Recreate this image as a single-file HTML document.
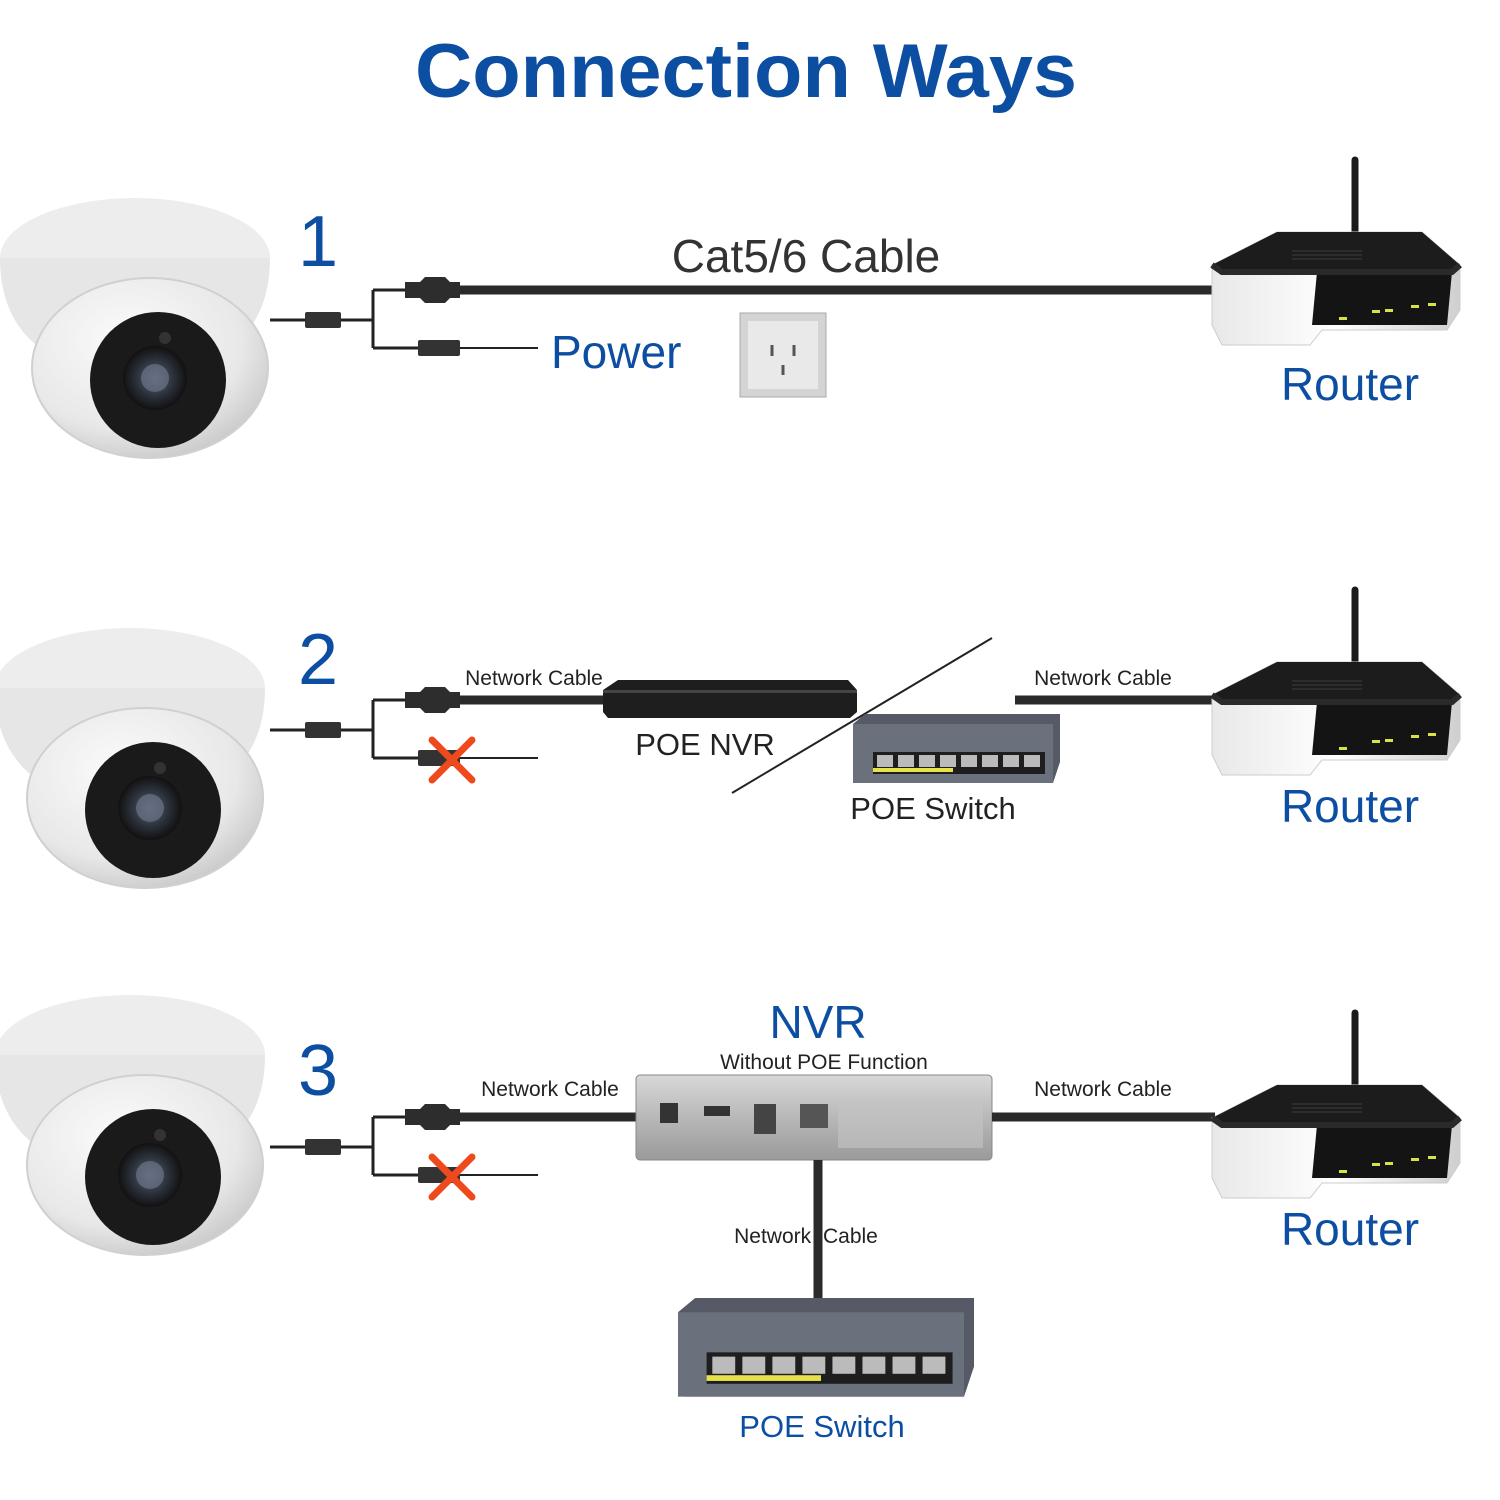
<!DOCTYPE html>
<html><head><meta charset="utf-8"><style>
html,body{margin:0;padding:0;background:#fff}
svg{display:block}
text{font-family:"Liberation Sans",Arial,sans-serif}
</style></head><body>
<svg width="1500" height="1500" viewBox="0 0 1500 1500" xmlns="http://www.w3.org/2000/svg">
<defs>
<radialGradient id="dome" cx="0.4" cy="0.35" r="0.7"><stop offset="0" stop-color="#fbfbfb"/><stop offset="0.7" stop-color="#e8e8e8"/><stop offset="1" stop-color="#c8c8c8"/></radialGradient>
<radialGradient id="lens" cx="0.5" cy="0.5" r="0.5"><stop offset="0" stop-color="#5a6478"/><stop offset="0.6" stop-color="#2a2f38"/><stop offset="1" stop-color="#111"/></radialGradient>
<linearGradient id="silver" x1="0" y1="0" x2="0" y2="1"><stop offset="0" stop-color="#d8d8d8"/><stop offset="0.5" stop-color="#b8b8b8"/><stop offset="1" stop-color="#9a9a9a"/></linearGradient>
<linearGradient id="rbase" x1="0" y1="0" x2="1" y2="0"><stop offset="0" stop-color="#e8e8e8"/><stop offset="0.5" stop-color="#fff"/><stop offset="1" stop-color="#cfcfcf"/></linearGradient>
<g id="cam">
  <ellipse cx="135" cy="60" rx="135" ry="60" fill="#ededed"/>
  <path d="M0 60 Q0 120 40 150 L230 150 Q270 120 270 60 Z" fill="#e6e6e6"/>
  <ellipse cx="150" cy="170" rx="118" ry="90" fill="url(#dome)"/>
  <ellipse cx="150" cy="170" rx="118" ry="90" fill="none" stroke="#d0d0d0" stroke-width="2"/>
  <circle cx="158" cy="182" r="68" fill="#1a1a1a"/>
  <circle cx="155" cy="180" r="32" fill="url(#lens)"/>
  <circle cx="155" cy="180" r="14" fill="#6b7587" opacity="0.7"/>
  <circle cx="165" cy="140" r="6" fill="#333"/>
</g>
<g id="conn">
  <line x1="270" y1="30" x2="305" y2="30" stroke="#222" stroke-width="3"/>
  <rect x="305" y="22" width="36" height="16" rx="2" fill="#333"/>
  <path d="M341 30 H373 M373 0 V58 M373 0 H405 M373 58 H418" stroke="#222" stroke-width="3" fill="none"/>
  <path d="M405 -8 H420 L425 -13 H445 L450 -8 H460 V8 H450 L445 13 H425 L420 8 H405 Z" fill="#2d2d2d"/>
  <rect x="418" y="50" width="42" height="16" rx="2" fill="#333"/>
</g>
<g id="router">
  <line x1="143" y1="0" x2="143" y2="80" stroke="#1a1a1a" stroke-width="7" stroke-linecap="round"/>
  <path d="M0 105 L65 72 H210 L248 105 V150 L235 170 H110 L98 185 H10 L0 165 Z" fill="url(#rbase)" stroke="#ccc"/>
  <path d="M0 105 L65 72 H210 L248 105 L240 112 H10 Z" fill="#1c1c1c"/>
  <path d="M105 112 H240 L235 165 H100 Z" fill="#141414"/>
  <path d="M0 105 L10 112 H240 L248 105" fill="none" stroke="#2a2a2a" stroke-width="6"/>
  <g fill="#d8e04a"><rect x="127" y="157" width="8" height="3"/><rect x="160" y="150" width="8" height="3"/><rect x="173" y="149" width="8" height="3"/><rect x="199" y="145" width="8" height="3"/><rect x="216" y="143" width="8" height="3"/></g>
  <g stroke="#333" stroke-width="1.5"><line x1="80" y1="95" x2="150" y2="95"/><line x1="80" y1="99" x2="150" y2="99"/><line x1="80" y1="91" x2="150" y2="91"/></g>
</g>
<g id="xmark"><path d="M-20 -20 L20 20 M20 -20 L-20 20" stroke="#ee4a1e" stroke-width="7" stroke-linecap="round"/></g>
<g id="switch">
  <path d="M0 10 L12 0 H207 V48 L200 69 H5 Z" fill="#555a66"/>
  <rect x="0" y="10" width="200" height="59" fill="#6a707c"/>
  <rect x="20" y="38" width="172" height="22" fill="#1e1e1e"/>
  <rect x="20" y="54" width="80" height="4" fill="#e8e24a"/>
  <g fill="#bbb"><rect x="24" y="41" width="16" height="12"/><rect x="45" y="41" width="16" height="12"/><rect x="66" y="41" width="16" height="12"/><rect x="87" y="41" width="16" height="12"/><rect x="108" y="41" width="16" height="12"/><rect x="129" y="41" width="16" height="12"/><rect x="150" y="41" width="16" height="12"/><rect x="171" y="41" width="16" height="12"/></g>
</g>
</defs>

<text x="746" y="97" text-anchor="middle" font-size="76" font-weight="bold" fill="#0c4ea2" textLength="662" lengthAdjust="spacingAndGlyphs">Connection Ways</text>

<!-- Row 1 -->
<use href="#cam" x="0" y="198"/>
<text x="318" y="266" text-anchor="middle" font-size="72" fill="#0c4ea2">1</text>
<use href="#conn" x="0" y="290"/>
<line x1="460" y1="290" x2="1215" y2="290" stroke="#2a2a2a" stroke-width="9"/>
<line x1="460" y1="348" x2="538" y2="348" stroke="#222" stroke-width="2"/>
<text x="806" y="272" text-anchor="middle" font-size="46" fill="#333">Cat5/6 Cable</text>
<text x="551" y="368" font-size="46" fill="#0c4ea2">Power</text>
<rect x="740" y="313" width="86" height="84" fill="#d4d4d4" stroke="#aaa"/>
<rect x="748" y="321" width="70" height="68" fill="#e9e9e9"/>
<g stroke="#555" stroke-width="3"><line x1="772" y1="345" x2="772" y2="356"/><line x1="794" y1="345" x2="794" y2="356"/><line x1="783" y1="365" x2="783" y2="375"/></g>
<use href="#router" x="1212" y="160"/>
<text x="1350" y="400" text-anchor="middle" font-size="46" fill="#0c4ea2">Router</text>

<!-- Row 2 -->
<use href="#cam" x="-5" y="628"/>
<text x="318" y="684" text-anchor="middle" font-size="72" fill="#0c4ea2">2</text>
<use href="#conn" x="0" y="700"/>
<line x1="288" y1="730" x2="305" y2="730" stroke="#222" stroke-width="3"/>
<line x1="460" y1="700" x2="605" y2="700" stroke="#2a2a2a" stroke-width="9"/>
<line x1="460" y1="758" x2="538" y2="758" stroke="#222" stroke-width="2"/>
<use href="#xmark" x="452" y="760"/>
<text x="534" y="685" text-anchor="middle" font-size="21" fill="#222">Network Cable</text>
<path d="M603 690 L618 680 H848 L857 690 V712 L850 718 H608 L603 712 Z" fill="#1e1e1e"/>
<rect x="603" y="690" width="254" height="3" fill="#444"/>
<text x="705" y="755" text-anchor="middle" font-size="31" fill="#222">POE NVR</text>
<line x1="732" y1="793" x2="992" y2="638" stroke="#222" stroke-width="2"/>
<use href="#switch" x="853" y="714"/>
<text x="933" y="819" text-anchor="middle" font-size="31" fill="#222">POE Switch</text>
<line x1="1015" y1="700" x2="1215" y2="700" stroke="#2a2a2a" stroke-width="9"/>
<text x="1103" y="685" text-anchor="middle" font-size="21" fill="#222">Network Cable</text>
<use href="#router" x="1212" y="590"/>
<text x="1350" y="822" text-anchor="middle" font-size="46" fill="#0c4ea2">Router</text>

<!-- Row 3 -->
<use href="#cam" x="-5" y="995"/>
<text x="318" y="1095" text-anchor="middle" font-size="72" fill="#0c4ea2">3</text>
<use href="#conn" x="0" y="1117"/>
<line x1="460" y1="1117" x2="640" y2="1117" stroke="#2a2a2a" stroke-width="9"/>
<line x1="460" y1="1175" x2="538" y2="1175" stroke="#222" stroke-width="2"/>
<use href="#xmark" x="452" y="1177"/>
<text x="550" y="1096" text-anchor="middle" font-size="21" fill="#222">Network Cable</text>
<text x="818" y="1038" text-anchor="middle" font-size="46" fill="#0c4ea2">NVR</text>
<text x="824" y="1069" text-anchor="middle" font-size="21" fill="#222">Without POE Function</text>
<rect x="636" y="1075" width="356" height="85" rx="4" fill="url(#silver)" stroke="#888"/>
<rect x="660" y="1103" width="18" height="20" fill="#333"/>
<rect x="704" y="1106" width="26" height="10" fill="#333"/>
<rect x="754" y="1104" width="22" height="30" fill="#444"/>
<rect x="800" y="1104" width="28" height="24" fill="#555"/>
<rect x="838" y="1100" width="145" height="48" fill="#c4c4c4" opacity="0.6"/>
<line x1="992" y1="1117" x2="1215" y2="1117" stroke="#2a2a2a" stroke-width="9"/>
<text x="1103" y="1096" text-anchor="middle" font-size="21" fill="#222">Network Cable</text>
<line x1="818" y1="1160" x2="818" y2="1302" stroke="#2a2a2a" stroke-width="9"/>
<text x="806" y="1243" text-anchor="middle" font-size="21" fill="#222">Network <tspan dx="6">Cable</tspan></text>
<g transform="translate(678,1298) scale(1.43,1.43)"><use href="#switch"/></g>
<text x="822" y="1437" text-anchor="middle" font-size="31" fill="#0c4ea2">POE Switch</text>
<use href="#router" x="1212" y="1013"/>
<text x="1350" y="1245" text-anchor="middle" font-size="46" fill="#0c4ea2">Router</text>
</svg>
</body></html>
